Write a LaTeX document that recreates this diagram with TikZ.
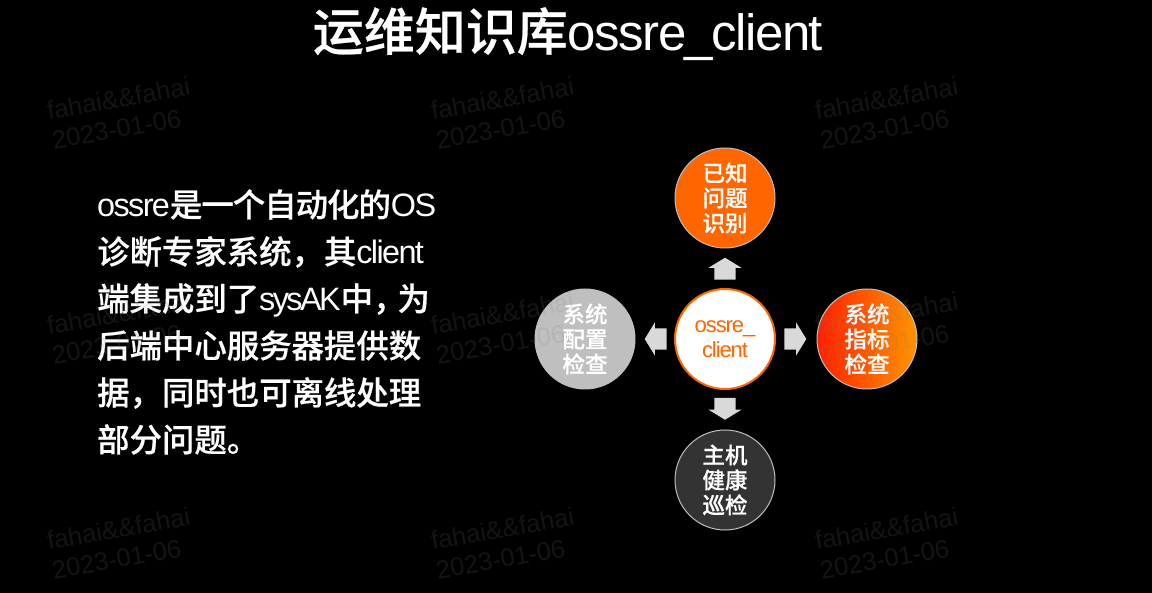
\documentclass[tikz,border=0pt]{standalone}
\usepackage{fontspec}
\usetikzlibrary{shapes.arrows}
\setmainfont[LetterSpace=-5]{Liberation Sans}
\newfontfamily\zh[FakeBold=0.5]{Noto Sans CJK SC Medium}
\newfontfamily\zhtight[FakeBold=0.5, LetterSpace=-3]{Noto Sans CJK SC Medium}
\newfontfamily\tightfont[LetterSpace=-8]{Liberation Sans}
\newfontfamily\titlefont[LetterSpace=-3]{Liberation Sans}
\newfontfamily\wmfont{Liberation Sans}
\definecolor{ossorange}{HTML}{FF6600}
\definecolor{ossred}{HTML}{FF2000}
\definecolor{ossamber}{HTML}{FF9500}
\definecolor{ossgray}{HTML}{BFBFBF}
\definecolor{ossdark}{HTML}{333333}
\definecolor{ossarrow}{HTML}{D9D9D9}
\tikzset{
    topic/.style={circle, draw=ossgray, line width=1pt, minimum size=100pt, inner sep=0pt, align=center, text=white, font=\fontsize{22.5}{25}\selectfont\zh},
    blockarrow/.style={single arrow, fill=ossarrow, minimum width=33pt, minimum height=22pt, inner xsep=0pt, inner ysep=10.5pt, single arrow head extend=6pt, single arrow tip angle=117},
    wmark/.style={align=left, rotate=10, text=gray, opacity=0.16, inner sep=0pt, font=\fontsize{25.5}{30}\selectfont\wmfont}
}
\begin{document}
\begin{tikzpicture}[x=1pt, y=-1pt]
    \fill[black] (0,0) rectangle (1152,593);
    \node (title) at (568,34) [text=white, inner sep=0pt, font=\fontsize{51}{51}\selectfont] {{\zh 运维知识库}{\titlefont ossre\_client}};
    \node (body) at (97,322) [anchor=west, text=white, align=left, inner sep=0pt, font=\fontsize{32.4}{47}\selectfont] {ossre{\zhtight 是一个自动化的}OS\\
        {\zh 诊断专家系统，其}client\\
        {\zh 端集成到了}{\tightfont sysAK}{\zh 中，\kern-8pt 为}\\
        {\zh 后端中心服务器提供数}\\
        {\zh 据，同时也可离线处理}\\
        {\zh 部分问题。}};
    \node (center) at (725,339) [topic, draw=ossorange, line width=2pt, fill=white, text=ossorange, font=\fontsize{22}{25}\selectfont] {ossre\_\\client};
    \node (known) at (725,198) [topic, fill=ossorange] {已知\\问题\\识别};
    \node (metric) at (867,339) [topic, left color=ossred, right color=ossamber] {系统\\指标\\检查};
    \node (config) at (585,339) [topic, fill=ossgray] {系统\\配置\\检查};
    \node (health) at (725,480) [topic, fill=ossdark] {主机\\健康\\巡检};
    \node (toknown) at (725,272) [blockarrow, rotate=90] {};
    \node (tometric) at (792,339) [blockarrow] {};
    \node (toconfig) at (659,339) [blockarrow, rotate=180] {};
    \node (tohealth) at (725,405.5) [blockarrow, rotate=270] {};
    \node (wma) at (121,113) [wmark] {fahai\&\&fahai\\2023-01-06};
    \node (wmb) at (505,113) [wmark] {fahai\&\&fahai\\2023-01-06};
    \node (wmc) at (889,113) [wmark] {fahai\&\&fahai\\2023-01-06};
    \node (wmd) at (121,328) [wmark] {fahai\&\&fahai\\2023-01-06};
    \node (wme) at (505,328) [wmark] {fahai\&\&fahai\\2023-01-06};
    \node (wmf) at (889,328) [wmark] {fahai\&\&fahai\\2023-01-06};
    \node (wmg) at (121,543) [wmark] {fahai\&\&fahai\\2023-01-06};
    \node (wmh) at (505,543) [wmark] {fahai\&\&fahai\\2023-01-06};
    \node (wmi) at (889,543) [wmark] {fahai\&\&fahai\\2023-01-06};
\end{tikzpicture}
\end{document}
